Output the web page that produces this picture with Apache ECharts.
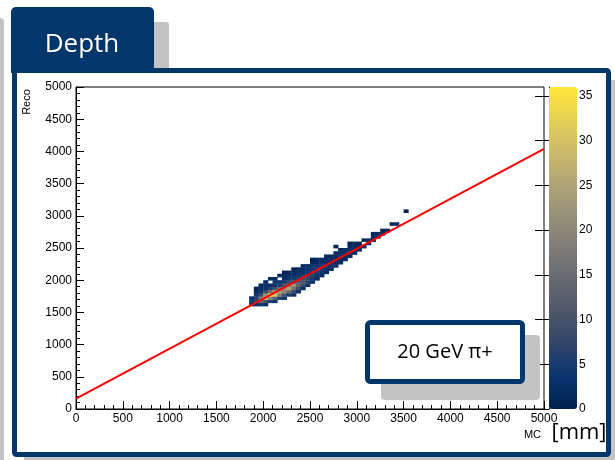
<!DOCTYPE html>
<html>
<head>
<meta charset="utf-8">
<script src="https://cdn.jsdelivr.net/npm/echarts@6/dist/echarts.min.js"></script>
<style>
  html, body { margin: 0; padding: 0; background: #fff; }
  #chart { width: 615px; height: 460px; }
</style>
</head>
<body>
<div id="chart"></div>
<script>
// 2D histogram, bins of 50 mm: for each MC column, the first Reco bin and the counts going up
const binSize = 50
const mcBins = [1850, 1900, 1950, 2000, 2050, 2100, 2150, 2200, 2250, 2300, 2350, 2400, 2450, 2500, 2550,
  2600, 2650, 2700, 2750, 2800, 2850, 2900, 2950, 3000, 3050, 3100, 3150, 3200, 3250, 3300, 3350, 3400, 3500]
const recoStart = [1600, 1600, 1600, 1600, 1650, 1650, 1700, 1700, 1750, 1750, 1800, 1850, 1900, 1950, 2000,
  2050, 2100, 2150, 2200, 2250, 2300, 2350, 2400, 2450, 2500, 2550, 2600, 2650, 2700, 2750, 2850, 2850, 3050]
const binCounts = [
  [2, 4, 3],
  [3, 8, 6, 4, 2, 1],
  [4, 14, 18, 8, 4, 3, 2],
  [3, 10, 28, 22, 9, 4, 3, 2],
  [6, 20, 35, 16, 6, 3, 0, 2],
  [4, 12, 30, 26, 10, 4, 3, 2],
  [6, 18, 24, 14, 6, 3, 0, 2],
  [4, 10, 20, 22, 10, 5, 3, 2, 1],
  [5, 14, 26, 18, 8, 4, 3, 2],
  [3, 8, 16, 22, 12, 5, 3, 2, 1],
  [3, 9, 14, 12, 6, 4, 3, 2],
  [3, 8, 11, 9, 5, 3, 2, 2],
  [3, 6, 8, 7, 4, 3, 2],
  [3, 5, 7, 6, 4, 3, 2, 1],
  [2, 4, 6, 5, 3, 2, 2],
  [2, 3, 5, 4, 3, 2],
  [2, 3, 4, 3, 2, 2],
  [2, 3, 3, 3, 2],
  [2, 2, 3, 2, 2, 0, 1],
  [2, 2, 3, 2, 2],
  [2, 2, 2, 2],
  [2, 2, 3, 2, 1],
  [2, 2, 2, 2],
  [2, 2, 1],
  [2, 0, 2],
  [2, 2],
  [2, 2, 1],
  [2, 2],
  [2, 1],
  [2],
  [1],
  [2],
  [1]
]
// linear fit drawn on top
const fitLine = [[0, 160], [5000, 4040]]
const zTicks = [0, 5, 10, 15, 20, 25, 30, 35]

const heatData = []
mcBins.forEach(function (mc, i) {
  binCounts[i].forEach(function (c, k) {
    if (c > 0) heatData.push([mc, recoStart[i] + k * binSize, c])
  })
})

const navy = '#03366b'
const grey = '#c3c3c3'
const cividis = ['#00204d', '#0a3470', '#31446b', '#4d5669', '#666970', '#7e7c78',
  '#979079', '#b0a476', '#cbba69', '#e6d156', '#fde737']

const axisCommon = {
  type: 'value',
  min: 0,
  max: 5000,
  interval: 500,
  axisLine: { show: true, lineStyle: { color: '#000', width: 1 } },
  axisTick: { show: true, inside: true, length: 8, lineStyle: { color: '#000' } },
  minorTick: { show: true, splitNumber: 5, length: 4, lineStyle: { color: '#000' } },
  axisLabel: {
    color: '#000',
    fontSize: 12,
    fontFamily: 'Liberation Sans',
    margin: 4,
    formatter: function (v) { return String(v) }
  },
  splitLine: { show: false }
}

const chart = echarts.init(document.getElementById('chart'))
chart.setOption({
  animation: false,
  grid: [
    { left: 76, top: 87, width: 468, height: 322, show: true, borderColor: '#000', borderWidth: 1, backgroundColor: 'transparent' },
    { left: 549, top: 87, width: 28, height: 322 }
  ],
  xAxis: [
    Object.assign({}, axisCommon, { gridIndex: 0 }),
    { type: 'value', gridIndex: 1, show: false, min: 0, max: 1 }
  ],
  yAxis: [
    Object.assign({}, axisCommon, { gridIndex: 0 }),
    {
      type: 'value',
      gridIndex: 1,
      position: 'right',
      min: 0,
      max: 36,
      axisLine: { show: true, lineStyle: { color: '#000', width: 1 } },
      axisTick: { show: true, inside: true, length: 14, customValues: zTicks, lineStyle: { color: '#000' } },
      axisLabel: { color: '#000', fontSize: 12, fontFamily: 'Liberation Sans', margin: 2, customValues: zTicks },
      splitLine: { show: false }
    }
  ],
  visualMap: {
    type: 'continuous',
    min: 0,
    max: 36,
    dimension: 2,
    seriesIndex: 0,
    orient: 'vertical',
    left: 549,
    top: 87,
    itemWidth: 28,
    itemHeight: 322,
    padding: 0,
    calculable: false,
    hoverLink: false,
    inRange: { color: cividis }
  },
  series: [
    {
      type: 'custom',
      xAxisIndex: 0,
      yAxisIndex: 0,
      data: heatData,
      encode: { x: 0, y: 1 },
      renderItem: function (params, api) {
        const p = api.coord([api.value(0), api.value(1) + binSize])
        const s = api.size([binSize, binSize])
        return {
          type: 'rect',
          shape: { x: p[0], y: p[1], width: s[0] + 0.4, height: s[1] + 0.4 },
          style: { fill: api.visual('color') }
        }
      }
    },
    {
      type: 'line',
      xAxisIndex: 0,
      yAxisIndex: 0,
      data: fitLine,
      symbol: 'none',
      z: 5,
      lineStyle: { color: '#ff0000', width: 2 }
    }
  ],
  graphic: [
    // grey shapes behind the frames
    { type: 'rect', z: -20, shape: { x: -6, y: 18, width: 10, height: 460, r: 4 }, style: { fill: grey } },
    { type: 'rect', z: -20, shape: { x: 24, y: 80, width: 600, height: 400 }, style: { fill: grey } },
    { type: 'rect', z: -20, shape: { x: 150, y: 22, width: 19, height: 52, r: [3, 3, 0, 0] }, style: { fill: grey } },
    // main frame + tab
    { type: 'rect', z: -10, shape: { x: 14.5, y: 70.5, width: 594, height: 384, r: 2 }, style: { fill: '#fff', stroke: navy, lineWidth: 5 } },
    { type: 'rect', z: -5, shape: { x: 11, y: 7, width: 143, height: 66, r: [5, 5, 0, 0] }, style: { fill: navy } },
    {
      type: 'text', z: -4, x: 82, y: 45,
      style: { text: 'Depth', fill: '#fff', font: '26px "Open Sans"', align: 'center', verticalAlign: 'middle', textAlign: 'center', textVerticalAlign: 'middle' }
    },
    // axis titles
    {
      type: 'text', z: 10, x: 27, y: 102, rotation: Math.PI / 2,
      style: { text: 'Reco', fill: '#000', font: '11px "Liberation Sans"', align: 'center', verticalAlign: 'middle', textAlign: 'center', textVerticalAlign: 'middle' }
    },
    {
      type: 'text', z: 10, x: 541, y: 435,
      style: { text: 'MC', fill: '#000', font: '11px "Liberation Sans"', align: 'right', verticalAlign: 'middle', textAlign: 'right', textVerticalAlign: 'middle' }
    },
    {
      type: 'text', z: 10, x: 579, y: 433,
      style: { text: '[mm]', fill: '#000', font: '22px "Open Sans"', align: 'center', verticalAlign: 'middle', textAlign: 'center', textVerticalAlign: 'middle' }
    },
    // label box
    { type: 'rect', z: 100, shape: { x: 381, y: 335, width: 159, height: 65, r: 4 }, style: { fill: grey } },
    { type: 'rect', z: 101, shape: { x: 367.5, y: 322.5, width: 155, height: 59, r: 3 }, style: { fill: '#fff', stroke: navy, lineWidth: 5 } },
    {
      type: 'text', z: 102, x: 445, y: 352,
      style: { text: '20 GeV π+', fill: '#000', font: '20px "Open Sans"', align: 'center', verticalAlign: 'middle', textAlign: 'center', textVerticalAlign: 'middle' }
    }
  ]
})
</script>
</body>
</html>
